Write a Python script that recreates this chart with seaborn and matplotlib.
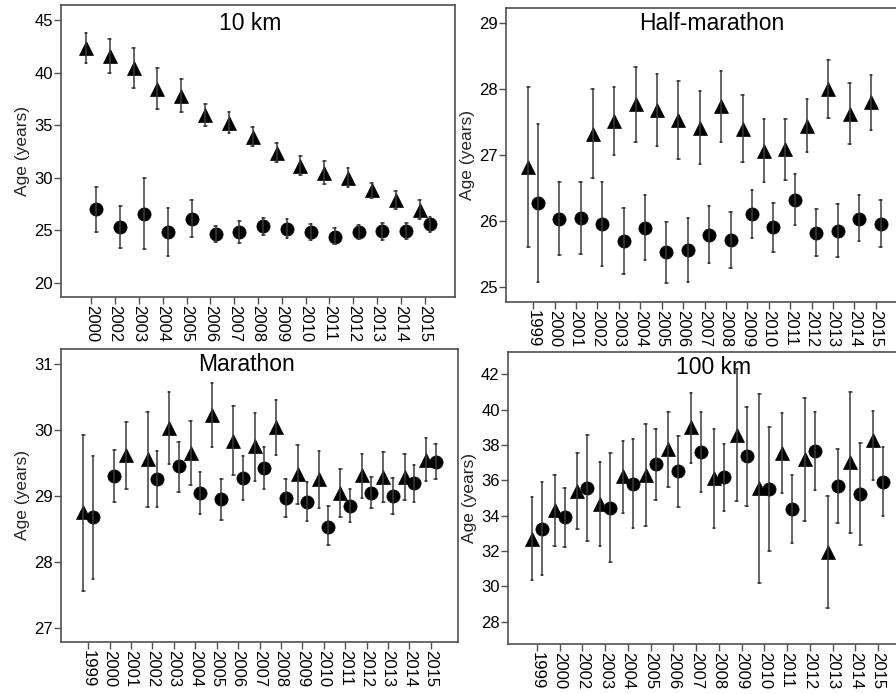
import matplotlib
matplotlib.use("Agg")
import matplotlib.pyplot as plt
import seaborn as sns
import pandas as pd
import numpy as np

# ---------------- data ----------------
# 10 km
years_10k = ["2000", "2002", "2003", "2004", "2005", "2006", "2007", "2008",
             "2009", "2010", "2011", "2012", "2013", "2014", "2015"]
tri_10k_mean = [42.34, 41.60, 40.40, 38.49, 37.82, 35.95, 35.24, 33.91, 32.40, 31.17, 30.47, 30.03, 28.80, 27.89, 26.97]
tri_10k_lo = [40.94, 40.00, 38.50, 36.57, 36.25, 34.92, 34.26, 33.02, 31.47, 30.23, 29.38, 29.13, 28.05, 27.00, 26.08]
tri_10k_hi = [43.73, 43.19, 42.31, 40.41, 39.39, 36.98, 36.22, 34.80, 33.34, 32.10, 31.57, 30.93, 29.54, 28.78, 27.86]
cir_10k_mean = [27.00, 25.30, 26.60, 24.87, 26.10, 24.66, 24.82, 25.41, 25.16, 24.85, 24.42, 24.87, 24.90, 24.95, 25.57]
cir_10k_lo = [24.82, 23.30, 23.20, 22.57, 24.34, 23.90, 23.77, 24.59, 24.28, 24.09, 23.68, 24.21, 24.09, 24.15, 24.82]
cir_10k_hi = [29.16, 27.35, 30.00, 27.16, 27.89, 25.42, 25.86, 26.21, 26.05, 25.61, 25.23, 25.51, 25.67, 25.73, 26.30]

# Half-marathon
years_hm = ["1999", "2000", "2001", "2002", "2003", "2004", "2005", "2006", "2007",
            "2008", "2009", "2010", "2011", "2012", "2013", "2014", "2015"]
tri_hm_mean = [26.82, None, None, 27.32, 27.52, 27.77, 27.69, 27.54, 27.42, 27.74, 27.40, 27.07, 27.09, 27.45, 28.00, 27.63, 27.80]
tri_hm_lo = [25.61, None, None, 26.65, 27.01, 27.20, 27.14, 26.95, 26.87, 27.20, 26.90, 26.59, 26.62, 27.05, 27.57, 27.17, 27.39]
tri_hm_hi = [28.03, None, None, 28.00, 28.03, 28.33, 28.23, 28.13, 27.97, 28.28, 27.91, 27.55, 27.55, 27.85, 28.44, 28.09, 28.21]
cir_hm_mean = [26.28, 26.04, 26.05, 25.96, 25.71, 25.90, 25.53, 25.56, 25.80, 25.72, 26.11, 25.91, 26.33, 25.83, 25.86, 26.04, 25.96]
cir_hm_lo = [25.09, 25.49, 25.51, 25.33, 25.20, 25.41, 25.07, 25.08, 25.37, 25.30, 25.75, 25.54, 25.95, 25.48, 25.46, 25.70, 25.61]
cir_hm_hi = [27.47, 26.59, 26.59, 26.59, 26.21, 26.40, 25.99, 26.05, 26.23, 26.14, 26.47, 26.28, 26.71, 26.19, 26.26, 26.40, 26.33]

# Marathon
years_m = ["1999", "2000", "2001", "2002", "2003", "2004", "2005", "2006", "2007",
           "2008", "2009", "2010", "2011", "2012", "2013", "2014", "2015"]
tri_m_mean = [28.75, None, 29.62, 29.56, 30.03, 29.65, 30.23, 29.84, 29.75, 30.04, 29.33, 29.25, 29.05, 29.31, 29.29, 29.29, 29.55]
tri_m_lo = [27.56, None, 29.11, 28.83, 29.49, 29.16, 29.74, 29.31, 29.23, 29.62, 28.88, 28.81, 28.68, 28.97, 28.91, 28.94, 29.22]
tri_m_hi = [29.93, None, 30.12, 30.28, 30.57, 30.14, 30.72, 30.36, 30.26, 30.46, 29.77, 29.68, 29.41, 29.64, 29.66, 29.63, 29.88]
cir_m_mean = [28.68, 29.30, None, 29.25, 29.45, 29.04, 28.95, 29.27, 29.43, 28.96, 28.91, 28.53, 28.85, 29.05, 29.00, 29.19, 29.52]
cir_m_lo = [27.74, 28.91, None, 28.83, 29.06, 28.72, 28.64, 28.94, 29.11, 28.68, 28.62, 28.25, 28.60, 28.81, 28.73, 28.91, 29.26]
cir_m_hi = [29.61, 29.69, None, 29.68, 29.82, 29.36, 29.26, 29.61, 29.74, 29.26, 29.21, 28.84, 29.11, 29.29, 29.27, 29.47, 29.78]

# 100 km
years_100k = ["1999", "2000", "2002", "2003", "2004", "2005", "2006", "2007",
              "2008", "2009", "2010", "2011", "2012", "2013", "2014", "2015"]
tri_100k_mean = [32.70, 34.30, 35.42, 34.68, 36.22, 36.29, 37.78, 39.00, 36.13, 38.57, 35.54, 37.53, 37.18, 31.95, 37.02, 38.28]
tri_100k_lo = [30.36, 32.27, 33.22, 32.28, 34.17, 33.41, 35.60, 36.96, 33.32, 34.85, 30.17, 35.26, 33.70, 28.76, 33.04, 36.02]
tri_100k_hi = [35.04, 36.30, 37.57, 37.06, 38.22, 39.16, 39.89, 40.96, 38.91, 42.28, 40.89, 39.79, 40.64, 35.13, 40.98, 39.94]
cir_100k_mean = [33.27, 33.91, 35.57, 34.46, 35.81, 36.90, 36.53, 37.62, 36.19, 37.36, 35.50, 34.37, 37.65, 35.66, 35.23, 35.93]
cir_100k_lo = [30.64, 32.24, 32.57, 31.40, 33.33, 34.89, 34.51, 35.36, 34.28, 34.55, 32.00, 32.43, 35.43, 33.57, 32.34, 34.00]
cir_100k_hi = [35.89, 35.58, 38.59, 37.52, 38.32, 38.90, 38.53, 39.89, 38.08, 40.17, 39.03, 36.30, 39.87, 37.75, 38.10, 37.87]

group_names = ["Group triangle", "Group circle"]
y_label = "Age (years)"

panels = [
    dict(title="10 km", years=years_10k,
         tri=(tri_10k_mean, tri_10k_lo, tri_10k_hi), cir=(cir_10k_mean, cir_10k_lo, cir_10k_hi),
         ylim=(18.67, 46.43), yticks=[20, 25, 30, 35, 40, 45],
         rect=(61, 5, 455, 297), title_x=0.48, title_y=0.937),
    dict(title="Half-marathon", years=years_hm,
         tri=(tri_hm_mean, tri_hm_lo, tri_hm_hi), cir=(cir_hm_mean, cir_hm_lo, cir_hm_hi),
         ylim=(24.78, 29.23), yticks=[25, 26, 27, 28, 29],
         rect=(506, 8, 903, 302), title_x=0.518, title_y=0.948),
    dict(title="Marathon", years=years_m,
         tri=(tri_m_mean, tri_m_lo, tri_m_hi), cir=(cir_m_mean, cir_m_lo, cir_m_hi),
         ylim=(26.78, 31.23), yticks=[27, 28, 29, 30, 31],
         rect=(61, 349, 458, 642), title_x=0.468, title_y=0.948),
    dict(title="100 km", years=years_100k,
         tri=(tri_100k_mean, tri_100k_lo, tri_100k_hi), cir=(cir_100k_mean, cir_100k_lo, cir_100k_hi),
         ylim=(26.74, 43.26), yticks=[28, 30, 32, 34, 36, 38, 40, 42],
         rect=(508, 352, 907, 644), title_x=0.514, title_y=0.948),
]

# ---------------- style ----------------
sns.set_theme(style="ticks")
plt.rcParams["font.family"] = ["Liberation Sans", "DejaVu Sans"]
plt.rcParams["axes.edgecolor"] = "#505050"
plt.rcParams["axes.linewidth"] = 1.2

W, H = 896, 694
fig = plt.figure(figsize=(W / 100, H / 100), dpi=100)
fig.patch.set_facecolor("white")


def long_form(years, tri, cir):
    rows = []
    for name, (mean, lo, hi) in zip(group_names, [tri, cir]):
        for yr, m, l, h in zip(years, mean, lo, hi):
            if m is None:
                continue
            for v in (l, m, h):
                rows.append({"year": yr, "age": v, "group": name})
    return pd.DataFrame(rows)


for p in panels:
    l, t, r, b = p["rect"]
    ax = fig.add_axes([l / W, 1 - b / H, (r - l) / W, (b - t) / H])
    df = long_form(p["years"], p["tri"], p["cir"])
    sns.pointplot(data=df, x="year", y="age", hue="group",
                  order=p["years"], hue_order=group_names,
                  estimator="median", errorbar=("pi", 100),
                  palette={group_names[0]: "black", group_names[1]: "black"},
                  markers=["^", "o"], linestyles="none",
                  dodge=0.44, capsize=0.12,
                  err_kws={"color": "#3c3c3c", "linewidth": 1.1},
                  markersize=9.5, markeredgewidth=0.5,
                  legend=False, ax=ax)
    n = len(p["years"])
    ax.set_xlim(-1.27, n - 1 + 1.27)
    ax.set_ylim(*p["ylim"])
    ax.set_yticks(p["yticks"])
    ax.set_xlabel("")
    ax.set_ylabel(y_label, fontsize=12.5, labelpad=3)
    for s in ax.spines.values():
        s.set_visible(True)
        s.set_color("#505050")
        s.set_linewidth(1.2)
    ax.tick_params(axis="both", direction="out", length=5, width=1,
                   color="#505050", labelsize=12, pad=1, labelcolor="black")
    ax.tick_params(axis="x", labelrotation=-90)
    for lab in ax.get_xticklabels():
        lab.set_va("top")
        lab.set_ha("center")
    ax.text(p["title_x"], p["title_y"], p["title"], transform=ax.transAxes,
            ha="center", va="center", fontsize=16.5, color="black")

fig.savefig("out.png", dpi=100, facecolor="white")
